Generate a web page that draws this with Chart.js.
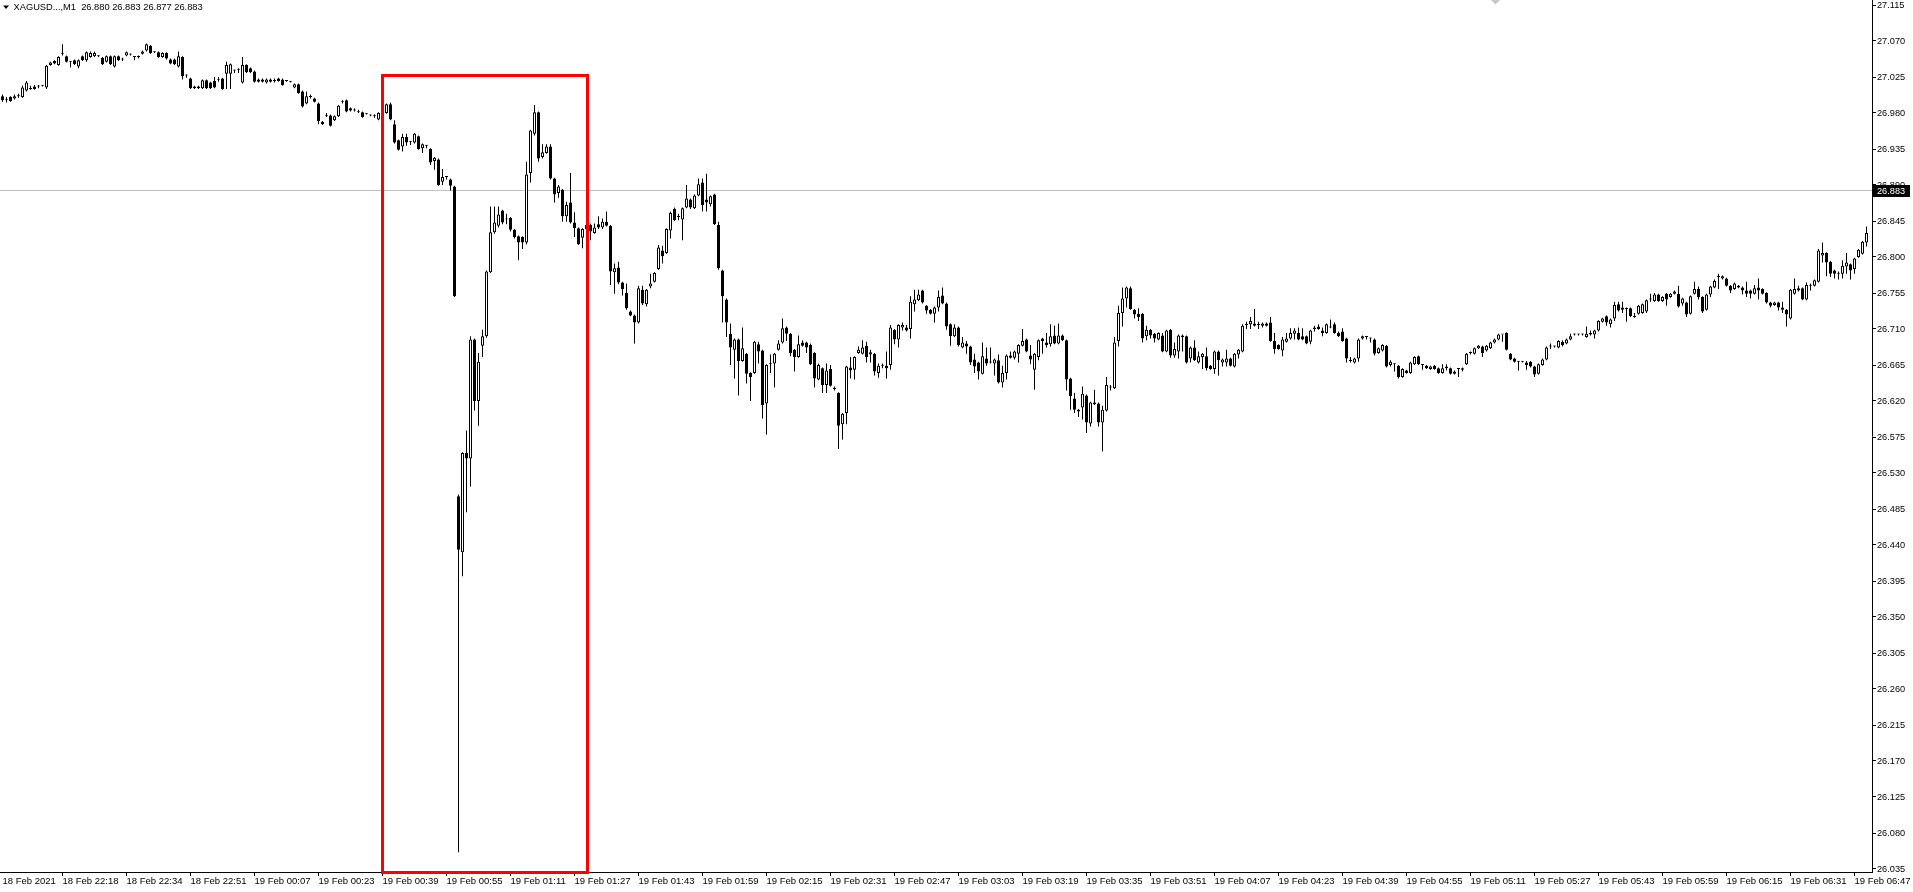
<!DOCTYPE html>
<html>
<head>
<meta charset="utf-8">
<title>XAGUSD M1</title>
<script src="https://cdn.jsdelivr.net/npm/chart.js@4.4.1/dist/chart.umd.min.js"></script>
<style>
  html, body { margin: 0; padding: 0; background: #fff; overflow: hidden; }
  canvas { display: block; }
</style>
</head>
<body>
<canvas id="chart" width="1913" height="892"></canvas>
<script>
// XAGUSD M1 candles, 18 Feb 2021 22:03 .. 19 Feb 06:50

const opens = [
  27.001, 26.997, 27.000, 26.998, 27.001, 27.000, 27.008, 27.010, 27.013, 27.013,
  27.014, 27.012, 27.040, 27.045, 27.040, 27.054, 27.051, 27.044, 27.046, 27.038,
  27.051, 27.046, 27.050, 27.051, 27.051, 27.049, 27.044, 27.051, 27.038, 27.051,
  27.048, 27.052, 27.053, 27.050, 27.050, 27.054, 27.058, 27.064, 27.056, 27.056,
  27.050, 27.055, 27.047, 27.047, 27.038, 27.050, 27.027, 27.023, 27.013, 27.011,
  27.011, 27.021, 27.018, 27.020, 27.021, 27.023, 27.029, 27.029, 27.033, 27.034,
  27.018, 27.040, 27.036, 27.032, 27.022, 27.022, 27.018, 27.022, 27.020, 27.023,
  27.022, 27.020, 27.019, 27.012, 27.016, 27.007, 26.992, 27.000, 26.998, 26.992,
  26.969, 26.976, 26.977, 26.971, 26.976, 26.994, 26.996, 26.986, 26.984, 26.982,
  26.981, 26.979, 26.978, 26.976, 26.972, 26.980, 26.980, 26.991, 26.966, 26.946,
  26.938, 26.950, 26.944, 26.943, 26.951, 26.936, 26.939, 26.935, 26.920, 26.922,
  26.894, 26.900, 26.897, 26.888, 26.501, 26.431, 26.555, 26.548, 26.697, 26.620,
  26.689, 26.701, 26.781, 26.831, 26.839, 26.858, 26.848, 26.849, 26.834, 26.826,
  26.825, 26.818, 26.905, 26.954, 26.981, 26.925, 26.930, 26.938, 26.898, 26.880,
  26.884, 26.851, 26.868, 26.843, 26.836, 26.824, 26.835, 26.840, 26.830, 26.841,
  26.837, 26.844, 26.839, 26.781, 26.787, 26.768, 26.755, 26.732, 26.727, 26.718,
  26.759, 26.741, 26.763, 26.769, 26.785, 26.808, 26.805, 26.833, 26.860, 26.850,
  26.847, 26.862, 26.872, 26.861, 26.877, 26.893, 26.872, 26.866, 26.878, 26.840,
  26.783, 26.747, 26.704, 26.684, 26.697, 26.670, 26.679, 26.655, 26.655, 26.691,
  26.683, 26.617, 26.666, 26.667, 26.684, 26.693, 26.712, 26.704, 26.684, 26.675,
  26.693, 26.693, 26.690, 26.680, 26.647, 26.661, 26.640, 26.660, 26.635, 26.630,
  26.591, 26.605, 26.662, 26.659, 26.680, 26.679, 26.689, 26.678, 26.679, 26.655,
  26.664, 26.664, 26.665, 26.709, 26.697, 26.712, 26.712, 26.710, 26.741, 26.746,
  26.758, 26.739, 26.734, 26.729, 26.737, 26.752, 26.742, 26.716, 26.701, 26.712,
  26.687, 26.692, 26.688, 26.672, 26.668, 26.654, 26.673, 26.668, 26.667, 26.671,
  26.643, 26.655, 26.677, 26.674, 26.679, 26.689, 26.697, 26.677, 26.659, 26.675,
  26.698, 26.693, 26.691, 26.702, 26.692, 26.702, 26.696, 26.648, 26.623, 26.609,
  26.612, 26.627, 26.592, 26.618, 26.617, 26.593, 26.608, 26.637, 26.636, 26.695,
  26.730, 26.748, 26.761, 26.734, 26.729, 26.729, 26.701, 26.709, 26.704, 26.697,
  26.702, 26.682, 26.709, 26.677, 26.682, 26.700, 26.701, 26.673, 26.687, 26.668,
  26.675, 26.676, 26.664, 26.660, 26.682, 26.668, 26.668, 26.673, 26.663, 26.678,
  26.682, 26.715, 26.716, 26.717, 26.715, 26.714, 26.717, 26.718, 26.695, 26.690,
  26.683, 26.694, 26.698, 26.704, 26.705, 26.701, 26.701, 26.694, 26.710, 26.713,
  26.708, 26.705, 26.712, 26.716, 26.705, 26.707, 26.698, 26.670, 26.668, 26.673,
  26.698, 26.700, 26.698, 26.697, 26.680, 26.683, 26.689, 26.665, 26.666, 26.664,
  26.650, 26.658, 26.655, 26.666, 26.676, 26.665, 26.664, 26.660, 26.664, 26.661,
  26.655, 26.663, 26.661, 26.657, 26.660, 26.659, 26.666, 26.680, 26.679, 26.686,
  26.688, 26.683, 26.686, 26.693, 26.697, 26.703, 26.705, 26.679, 26.673, 26.669,
  26.669, 26.668, 26.669, 26.663, 26.654, 26.665, 26.672, 26.688, 26.688, 26.687,
  26.694, 26.692, 26.697, 26.703, 26.703, 26.703, 26.700, 26.703, 26.703, 26.708,
  26.719, 26.726, 26.716, 26.723, 26.741, 26.737, 26.735, 26.736, 26.725, 26.729,
  26.730, 26.732, 26.747, 26.745, 26.753, 26.745, 26.754, 26.750, 26.754, 26.754,
  26.742, 26.743, 26.729, 26.754, 26.760, 26.750, 26.734, 26.753, 26.762, 26.775,
  26.773, 26.773, 26.764, 26.760, 26.764, 26.762, 26.758, 26.758, 26.754, 26.762,
  26.760, 26.755, 26.743, 26.740, 26.743, 26.737, 26.734, 26.723, 26.754, 26.761,
  26.761, 26.747, 26.764, 26.764, 26.769, 26.802, 26.805, 26.794, 26.783, 26.779,
  26.779, 26.788, 26.791, 26.785, 26.800, 26.804, 26.818
];

const highs = [
  27.003, 27.000, 27.001, 27.003, 27.004, 27.014, 27.020, 27.014, 27.015, 27.015,
  27.015, 27.040, 27.044, 27.046, 27.051, 27.066, 27.052, 27.045, 27.047, 27.047,
  27.052, 27.057, 27.057, 27.057, 27.052, 27.050, 27.052, 27.052, 27.052, 27.052,
  27.049, 27.057, 27.054, 27.050, 27.052, 27.058, 27.067, 27.065, 27.057, 27.057,
  27.056, 27.056, 27.048, 27.048, 27.057, 27.051, 27.028, 27.024, 27.014, 27.014,
  27.022, 27.022, 27.019, 27.025, 27.025, 27.024, 27.044, 27.042, 27.034, 27.036,
  27.050, 27.041, 27.037, 27.033, 27.023, 27.023, 27.023, 27.023, 27.023, 27.024,
  27.023, 27.021, 27.020, 27.017, 27.017, 27.008, 27.007, 27.003, 26.999, 26.993,
  26.970, 26.980, 26.978, 26.977, 26.990, 26.996, 26.997, 26.987, 26.986, 26.984,
  26.982, 26.980, 26.978, 26.978, 26.981, 26.982, 26.992, 26.993, 26.971, 26.947,
  26.954, 26.954, 26.945, 26.955, 26.952, 26.942, 26.940, 26.936, 26.925, 26.923,
  26.910, 26.900, 26.898, 26.889, 26.503, 26.556, 26.583, 26.701, 26.698, 26.680,
  26.709, 26.783, 26.863, 26.863, 26.863, 26.859, 26.854, 26.850, 26.835, 26.827,
  26.826, 26.919, 26.959, 26.990, 26.982, 26.941, 26.941, 26.941, 26.899, 26.890,
  26.885, 26.869, 26.905, 26.856, 26.837, 26.836, 26.842, 26.842, 26.842, 26.851,
  26.848, 26.857, 26.840, 26.792, 26.794, 26.769, 26.767, 26.733, 26.728, 26.764,
  26.764, 26.760, 26.779, 26.781, 26.815, 26.814, 26.836, 26.857, 26.862, 26.854,
  26.862, 26.890, 26.873, 26.878, 26.898, 26.898, 26.904, 26.877, 26.879, 26.844,
  26.784, 26.748, 26.717, 26.698, 26.698, 26.712, 26.680, 26.656, 26.695, 26.694,
  26.684, 26.666, 26.678, 26.680, 26.696, 26.723, 26.713, 26.705, 26.685, 26.702,
  26.696, 26.694, 26.692, 26.681, 26.667, 26.662, 26.667, 26.665, 26.638, 26.631,
  26.605, 26.664, 26.675, 26.676, 26.688, 26.696, 26.694, 26.684, 26.680, 26.667,
  26.667, 26.682, 26.715, 26.710, 26.716, 26.718, 26.715, 26.751, 26.759, 26.759,
  26.759, 26.740, 26.735, 26.738, 26.758, 26.762, 26.743, 26.717, 26.716, 26.713,
  26.700, 26.695, 26.689, 26.679, 26.669, 26.693, 26.687, 26.687, 26.673, 26.678,
  26.664, 26.678, 26.682, 26.683, 26.691, 26.710, 26.698, 26.690, 26.680, 26.697,
  26.699, 26.705, 26.716, 26.714, 26.717, 26.703, 26.697, 26.649, 26.630, 26.610,
  26.638, 26.628, 26.619, 26.634, 26.618, 26.614, 26.650, 26.640, 26.700, 26.739,
  26.762, 26.763, 26.763, 26.735, 26.736, 26.730, 26.714, 26.710, 26.705, 26.706,
  26.705, 26.709, 26.710, 26.693, 26.703, 26.703, 26.702, 26.688, 26.696, 26.682,
  26.680, 26.687, 26.665, 26.683, 26.683, 26.673, 26.684, 26.674, 26.680, 26.685,
  26.716, 26.719, 26.725, 26.735, 26.719, 26.718, 26.718, 26.725, 26.705, 26.691,
  26.700, 26.705, 26.711, 26.711, 26.712, 26.711, 26.702, 26.709, 26.714, 26.716,
  26.712, 26.717, 26.722, 26.718, 26.707, 26.711, 26.699, 26.675, 26.674, 26.698,
  26.702, 26.700, 26.699, 26.698, 26.687, 26.691, 26.690, 26.671, 26.667, 26.665,
  26.661, 26.659, 26.669, 26.676, 26.677, 26.665, 26.665, 26.664, 26.665, 26.662,
  26.666, 26.666, 26.662, 26.658, 26.660, 26.662, 26.680, 26.682, 26.687, 26.690,
  26.689, 26.690, 26.694, 26.698, 26.704, 26.703, 26.706, 26.680, 26.674, 26.670,
  26.670, 26.670, 26.670, 26.664, 26.667, 26.673, 26.688, 26.692, 26.689, 26.696,
  26.696, 26.698, 26.704, 26.704, 26.704, 26.704, 26.713, 26.708, 26.709, 26.721,
  26.724, 26.727, 26.723, 26.744, 26.744, 26.744, 26.737, 26.737, 26.730, 26.740,
  26.742, 26.747, 26.754, 26.755, 26.754, 26.751, 26.755, 26.755, 26.758, 26.764,
  26.749, 26.744, 26.752, 26.769, 26.763, 26.751, 26.754, 26.764, 26.772, 26.779,
  26.777, 26.774, 26.765, 26.768, 26.765, 26.763, 26.769, 26.759, 26.765, 26.773,
  26.761, 26.756, 26.744, 26.744, 26.744, 26.744, 26.735, 26.760, 26.773, 26.764,
  26.762, 26.768, 26.767, 26.772, 26.810, 26.818, 26.806, 26.795, 26.784, 26.782,
  26.796, 26.805, 26.792, 26.799, 26.810, 26.820, 26.838
];

const lows = [
  26.994, 26.993, 26.994, 26.997, 26.999, 26.999, 27.007, 27.009, 27.009, 27.011,
  27.013, 27.010, 27.039, 27.041, 27.039, 27.052, 27.043, 27.037, 27.040, 27.036,
  27.045, 27.044, 27.049, 27.050, 27.050, 27.040, 27.043, 27.040, 27.037, 27.045,
  27.045, 27.051, 27.052, 27.046, 27.048, 27.053, 27.057, 27.054, 27.055, 27.049,
  27.049, 27.047, 27.041, 27.040, 27.037, 27.022, 27.024, 27.010, 27.010, 27.010,
  27.010, 27.010, 27.010, 27.011, 27.019, 27.009, 27.010, 27.010, 27.030, 27.030,
  27.017, 27.030, 27.030, 27.018, 27.018, 27.018, 27.017, 27.018, 27.018, 27.019,
  27.014, 27.019, 27.018, 27.011, 27.004, 26.987, 26.991, 26.998, 26.993, 26.966,
  26.965, 26.975, 26.963, 26.970, 26.975, 26.992, 26.981, 26.982, 26.982, 26.980,
  26.974, 26.978, 26.976, 26.974, 26.971, 26.979, 26.979, 26.971, 26.942, 26.933,
  26.932, 26.939, 26.940, 26.942, 26.934, 26.930, 26.936, 26.915, 26.909, 26.889,
  26.890, 26.897, 26.883, 26.750, 26.056, 26.401, 26.481, 26.513, 26.608, 26.589,
  26.675, 26.699, 26.780, 26.829, 26.837, 26.841, 26.841, 26.832, 26.823, 26.796,
  26.810, 26.816, 26.893, 26.952, 26.919, 26.923, 26.929, 26.897, 26.868, 26.874,
  26.844, 26.844, 26.842, 26.825, 26.815, 26.811, 26.830, 26.821, 26.829, 26.835,
  26.835, 26.838, 26.765, 26.754, 26.766, 26.752, 26.734, 26.726, 26.692, 26.717,
  26.740, 26.738, 26.761, 26.768, 26.784, 26.792, 26.804, 26.823, 26.845, 26.846,
  26.821, 26.861, 26.860, 26.860, 26.876, 26.857, 26.857, 26.863, 26.840, 26.784,
  26.718, 26.700, 26.665, 26.648, 26.627, 26.669, 26.642, 26.620, 26.654, 26.667,
  26.598, 26.578, 26.655, 26.637, 26.683, 26.692, 26.695, 26.676, 26.657, 26.674,
  26.688, 26.680, 26.665, 26.637, 26.646, 26.630, 26.630, 26.638, 26.633, 26.560,
  26.572, 26.591, 26.648, 26.647, 26.679, 26.678, 26.668, 26.668, 26.652, 26.649,
  26.661, 26.648, 26.659, 26.691, 26.687, 26.708, 26.707, 26.698, 26.732, 26.745,
  26.742, 26.729, 26.728, 26.718, 26.732, 26.741, 26.709, 26.689, 26.700, 26.688,
  26.686, 26.679, 26.665, 26.655, 26.647, 26.653, 26.664, 26.667, 26.652, 26.642,
  26.637, 26.647, 26.673, 26.672, 26.668, 26.688, 26.681, 26.666, 26.634, 26.671,
  26.679, 26.687, 26.688, 26.691, 26.691, 26.695, 26.633, 26.609, 26.605, 26.600,
  26.597, 26.580, 26.588, 26.615, 26.588, 26.557, 26.607, 26.633, 26.635, 26.688,
  26.713, 26.737, 26.734, 26.723, 26.720, 26.693, 26.696, 26.698, 26.693, 26.696,
  26.681, 26.681, 26.674, 26.674, 26.673, 26.682, 26.667, 26.668, 26.670, 26.667,
  26.660, 26.658, 26.659, 26.654, 26.652, 26.663, 26.663, 26.663, 26.662, 26.673,
  26.681, 26.710, 26.710, 26.713, 26.710, 26.712, 26.713, 26.694, 26.679, 26.684,
  26.676, 26.693, 26.697, 26.697, 26.696, 26.696, 26.691, 26.691, 26.707, 26.709,
  26.701, 26.704, 26.711, 26.704, 26.700, 26.694, 26.668, 26.668, 26.667, 26.669,
  26.697, 26.697, 26.693, 26.677, 26.679, 26.682, 26.662, 26.663, 26.657, 26.648,
  26.649, 26.654, 26.654, 26.665, 26.665, 26.659, 26.660, 26.659, 26.659, 26.654,
  26.654, 26.658, 26.653, 26.653, 26.650, 26.657, 26.665, 26.678, 26.678, 26.685,
  26.675, 26.682, 26.685, 26.692, 26.696, 26.694, 26.683, 26.671, 26.668, 26.658,
  26.668, 26.659, 26.662, 26.650, 26.653, 26.664, 26.671, 26.685, 26.687, 26.686,
  26.688, 26.691, 26.696, 26.702, 26.702, 26.702, 26.699, 26.702, 26.698, 26.707,
  26.718, 26.714, 26.712, 26.720, 26.732, 26.730, 26.719, 26.725, 26.724, 26.728,
  26.729, 26.730, 26.744, 26.744, 26.744, 26.744, 26.739, 26.749, 26.753, 26.737,
  26.739, 26.725, 26.728, 26.753, 26.747, 26.730, 26.733, 26.750, 26.761, 26.760,
  26.772, 26.763, 26.755, 26.759, 26.761, 26.753, 26.750, 26.748, 26.753, 26.747,
  26.753, 26.742, 26.737, 26.739, 26.733, 26.730, 26.713, 26.722, 26.753, 26.757,
  26.746, 26.746, 26.758, 26.763, 26.768, 26.793, 26.776, 26.775, 26.773, 26.772,
  26.773, 26.779, 26.772, 26.779, 26.799, 26.803, 26.813
];

const closes = [
  26.996, 26.996, 26.995, 27.001, 27.002, 27.012, 27.018, 27.011, 27.010, 27.014,
  27.015, 27.039, 27.043, 27.042, 27.050, 27.055, 27.044, 27.045, 27.041, 27.046,
  27.046, 27.056, 27.055, 27.055, 27.051, 27.041, 27.051, 27.041, 27.051, 27.046,
  27.047, 27.056, 27.053, 27.050, 27.050, 27.057, 27.066, 27.055, 27.056, 27.050,
  27.055, 27.048, 27.042, 27.041, 27.051, 27.026, 27.027, 27.011, 27.011, 27.013,
  27.021, 27.011, 27.011, 27.012, 27.021, 27.010, 27.040, 27.041, 27.033, 27.034,
  27.040, 27.031, 27.031, 27.019, 27.019, 27.019, 27.022, 27.019, 27.020, 27.020,
  27.015, 27.020, 27.019, 27.016, 27.005, 26.988, 27.001, 27.000, 26.994, 26.970,
  26.966, 26.976, 26.964, 26.976, 26.989, 26.994, 26.982, 26.983, 26.983, 26.981,
  26.975, 26.979, 26.977, 26.976, 26.980, 26.980, 26.991, 26.972, 26.943, 26.934,
  26.950, 26.943, 26.944, 26.954, 26.935, 26.941, 26.939, 26.918, 26.924, 26.890,
  26.900, 26.900, 26.889, 26.751, 26.434, 26.555, 26.548, 26.697, 26.620, 26.669,
  26.701, 26.782, 26.831, 26.843, 26.853, 26.843, 26.847, 26.834, 26.825, 26.818,
  26.818, 26.903, 26.958, 26.981, 26.923, 26.931, 26.938, 26.898, 26.878, 26.888,
  26.851, 26.865, 26.843, 26.836, 26.816, 26.835, 26.840, 26.832, 26.837, 26.837,
  26.844, 26.839, 26.782, 26.786, 26.768, 26.760, 26.736, 26.727, 26.718, 26.761,
  26.742, 26.759, 26.767, 26.780, 26.812, 26.801, 26.835, 26.855, 26.846, 26.850,
  26.861, 26.873, 26.862, 26.877, 26.891, 26.865, 26.868, 26.876, 26.841, 26.786,
  26.751, 26.718, 26.687, 26.697, 26.670, 26.686, 26.654, 26.650, 26.694, 26.682,
  26.615, 26.665, 26.667, 26.679, 26.692, 26.711, 26.704, 26.680, 26.675, 26.691,
  26.689, 26.687, 26.666, 26.648, 26.665, 26.640, 26.658, 26.639, 26.635, 26.589,
  26.604, 26.663, 26.658, 26.675, 26.684, 26.687, 26.675, 26.681, 26.657, 26.664,
  26.665, 26.661, 26.712, 26.697, 26.715, 26.715, 26.708, 26.744, 26.747, 26.753,
  26.743, 26.733, 26.729, 26.737, 26.750, 26.742, 26.713, 26.701, 26.712, 26.690,
  26.693, 26.688, 26.668, 26.663, 26.657, 26.676, 26.667, 26.668, 26.672, 26.643,
  26.655, 26.677, 26.674, 26.682, 26.690, 26.695, 26.682, 26.672, 26.679, 26.696,
  26.695, 26.690, 26.701, 26.692, 26.702, 26.696, 26.647, 26.626, 26.609, 26.607,
  26.629, 26.593, 26.618, 26.616, 26.593, 26.609, 26.640, 26.637, 26.693, 26.730,
  26.748, 26.762, 26.735, 26.728, 26.725, 26.698, 26.709, 26.702, 26.698, 26.705,
  26.682, 26.708, 26.677, 26.685, 26.702, 26.702, 26.668, 26.687, 26.671, 26.676,
  26.679, 26.661, 26.660, 26.682, 26.671, 26.672, 26.673, 26.664, 26.679, 26.684,
  26.714, 26.715, 26.720, 26.714, 26.715, 26.717, 26.714, 26.695, 26.685, 26.685,
  26.697, 26.698, 26.705, 26.708, 26.697, 26.697, 26.692, 26.708, 26.712, 26.710,
  26.705, 26.716, 26.712, 26.705, 26.701, 26.695, 26.673, 26.670, 26.673, 26.697,
  26.701, 26.700, 26.698, 26.679, 26.686, 26.690, 26.663, 26.669, 26.666, 26.650,
  26.660, 26.655, 26.668, 26.675, 26.666, 26.665, 26.661, 26.663, 26.660, 26.655,
  26.661, 26.661, 26.654, 26.654, 26.660, 26.661, 26.679, 26.680, 26.686, 26.689,
  26.680, 26.689, 26.693, 26.697, 26.703, 26.703, 26.684, 26.672, 26.669, 26.669,
  26.669, 26.665, 26.663, 26.653, 26.666, 26.672, 26.687, 26.688, 26.688, 26.695,
  26.690, 26.697, 26.701, 26.703, 26.703, 26.703, 26.704, 26.705, 26.708, 26.720,
  26.723, 26.718, 26.722, 26.740, 26.733, 26.734, 26.735, 26.726, 26.725, 26.739,
  26.741, 26.746, 26.747, 26.753, 26.745, 26.750, 26.747, 26.754, 26.757, 26.738,
  26.748, 26.728, 26.751, 26.760, 26.750, 26.732, 26.753, 26.763, 26.770, 26.775,
  26.776, 26.764, 26.758, 26.767, 26.762, 26.758, 26.754, 26.754, 26.761, 26.758,
  26.754, 26.743, 26.739, 26.743, 26.737, 26.734, 26.728, 26.759, 26.760, 26.758,
  26.747, 26.765, 26.764, 26.771, 26.808, 26.805, 26.793, 26.779, 26.779, 26.779,
  26.789, 26.793, 26.783, 26.798, 26.809, 26.819, 26.830
];

// time axis: one label every 16 bars
const xTickLabels = [
  '18 Feb 2021', '18 Feb 22:18', '18 Feb 22:34', '18 Feb 22:51', '19 Feb 00:07',
  '19 Feb 00:23', '19 Feb 00:39', '19 Feb 00:55', '19 Feb 01:11', '19 Feb 01:27',
  '19 Feb 01:43', '19 Feb 01:59', '19 Feb 02:15', '19 Feb 02:31', '19 Feb 02:47',
  '19 Feb 03:03', '19 Feb 03:19', '19 Feb 03:35', '19 Feb 03:51', '19 Feb 04:07',
  '19 Feb 04:23', '19 Feb 04:39', '19 Feb 04:55', '19 Feb 05:11', '19 Feb 05:27',
  '19 Feb 05:43', '19 Feb 05:59', '19 Feb 06:15', '19 Feb 06:31', '19 Feb 06:47'
];
const xTickBars = [
  0, 15, 31, 47, 63, 79, 95, 111, 127, 143, 159, 175, 191, 207, 223,
  239, 255, 271, 287, 303, 319, 335, 351, 367, 383, 399, 415, 431, 447, 463
];

// price axis
const yTicks = [
  26.035, 26.080, 26.125, 26.170, 26.215, 26.260, 26.305, 26.350, 26.395,
  26.440, 26.485, 26.530, 26.575, 26.620, 26.665, 26.710, 26.755, 26.800,
  26.845, 26.890, 26.935, 26.980, 27.025, 27.070, 27.115
];
const yMin = 26.03125;
const yMax = 27.12125;

// header / current bid
const symbolName = 'XAGUSD...,M1';
const headerOHLC = [26.880, 26.883, 26.877, 26.883];
const bidPrice = 26.883;

// red highlight box round the spike (bar range and top price)
const boxFromBar = 94.875;
const boxToBar = 146.125;
const boxTopPrice = 27.0275;

const markerBar = 373.25;

const FONT = '"Liberation Sans", Arial, sans-serif';

const candleIdx = opens.map((o, i) => i);
const bodyColors = candleIdx.map(i => closes[i] > opens[i] ? '#ffffff' : '#000000');

// overlays: bid line, highlight box, bid label, header text
const overlayPlugin = {
  id: 'overlay',
  beforeDatasetsDraw(chart) {
    const { ctx, chartArea, scales } = chart;
    const py = Math.floor(scales.y.getPixelForValue(bidPrice)) + 0.5;
    ctx.save();
    ctx.strokeStyle = '#c0c0c0';
    ctx.lineWidth = 1;
    ctx.beginPath();
    ctx.moveTo(chartArea.left - 0.5, py);
    ctx.lineTo(chartArea.right, py);
    ctx.stroke();
    ctx.restore();
  },
  afterDraw(chart) {
    const { ctx, chartArea, scales } = chart;
    const x = scales.x, y = scales.y;
    ctx.save();

    // highlight box
    const bx0 = Math.round(x.getPixelForValue(boxFromBar));
    const bx1 = Math.round(x.getPixelForValue(boxToBar));
    const by0 = Math.round(y.getPixelForValue(boxTopPrice));
    const by1 = Math.round(chartArea.bottom);
    ctx.strokeStyle = '#ff0000';
    ctx.lineWidth = 3;
    ctx.strokeRect(bx0 + 0.5, by0 + 0.5, bx1 - bx0, by1 - by0);

    // bid label on the price axis
    const py = Math.floor(y.getPixelForValue(bidPrice));
    ctx.fillStyle = '#000000';
    ctx.fillRect(chartArea.right + 1, py - 5, 37, 12);
    ctx.fillStyle = '#ffffff';
    ctx.font = '9.2px ' + FONT;
    ctx.textBaseline = 'middle';
    ctx.textAlign = 'left';
    ctx.fillText(bidPrice.toFixed(3), chartArea.right + 5, py + 1);

    // little grey marker at the top edge
    const mx = x.getPixelForValue(markerBar);
    ctx.fillStyle = '#c8c8c8';
    ctx.beginPath();
    ctx.moveTo(mx - 4.5, 0);
    ctx.lineTo(mx + 4.5, 0);
    ctx.lineTo(mx, 4.5);
    ctx.closePath();
    ctx.fill();

    // header
    ctx.fillStyle = '#000000';
    ctx.beginPath();
    ctx.moveTo(3, 5.5);
    ctx.lineTo(9, 5.5);
    ctx.lineTo(6, 9);
    ctx.closePath();
    ctx.fill();
    ctx.font = '9.3px ' + FONT;
    ctx.fillText(symbolName + '  ' + headerOHLC.map(v => v.toFixed(3)).join(' '), 13.5, 7.5);

    ctx.restore();
  }
};

new Chart(document.getElementById('chart'), {
  type: 'bar',
  data: {
    datasets: [{
      label: 'wick',
      data: candleIdx.map(i => ({ x: i, y: [lows[i], highs[i]] })),
      backgroundColor: '#000000',
      borderWidth: 0,
      barThickness: 1,
      inflateAmount: 0,
      grouped: false,
      order: 2
    }, {
      label: 'body',
      data: candleIdx.map(i => ({ x: i, y: [opens[i], closes[i]] })),
      backgroundColor: bodyColors,
      borderColor: '#000000',
      borderWidth: 1,
      borderSkipped: false,
      barThickness: 3,
      minBarLength: 1,
      inflateAmount: 0,
      grouped: false,
      order: 1
    }]
  },
  options: {
    responsive: false,
    animation: false,
    events: [],
    layout: { padding: { left: 0.5, top: 0, right: 0, bottom: 0 }, autoPadding: false },
    plugins: {
      legend: { display: false },
      tooltip: { enabled: false },
      title: { display: false }
    },
    scales: {
      x: {
        type: 'linear',
        min: -0.5,
        max: 467.375,
        offset: false,
        bounds: 'data',
        grid: {
          drawOnChartArea: false,
          drawTicks: true,
          tickLength: 4,
          offset: false,
          color: ctx => ctx.index === 0 ? 'rgba(0,0,0,0)' : '#000000'
        },
        border: { display: true, color: '#000000', width: 1 },
        afterBuildTicks: scale => { scale.ticks = xTickBars.map(v => ({ value: v })); },
        afterFit: scale => { scale.height = 20; scale.paddingLeft = 0; scale.paddingRight = 0; },
        ticks: {
          autoSkip: false,
          maxRotation: 0,
          minRotation: 0,
          align: 'start',
          padding: 0,
          color: '#000000',
          font: { family: FONT, size: 9.5 },
          callback: (value, index) => xTickLabels[index]
        }
      },
      y: {
        type: 'linear',
        position: 'right',
        min: yMin,
        max: yMax,
        bounds: 'data',
        beginAtZero: false,
        grid: { drawOnChartArea: false, drawTicks: true, tickLength: 4, color: '#000000' },
        border: { display: true, color: '#000000', width: 1 },
        afterBuildTicks: scale => { scale.ticks = yTicks.map(v => ({ value: v })); },
        afterFit: scale => { scale.width = 41; scale.paddingTop = 0; scale.paddingBottom = 0; },
        ticks: {
          autoSkip: false,
          padding: 1,
          color: '#000000',
          font: { family: FONT, size: 9.2 },
          callback: value => value.toFixed(3)
        }
      }
    }
  },
  plugins: [overlayPlugin]
});
</script>
</body>
</html>
